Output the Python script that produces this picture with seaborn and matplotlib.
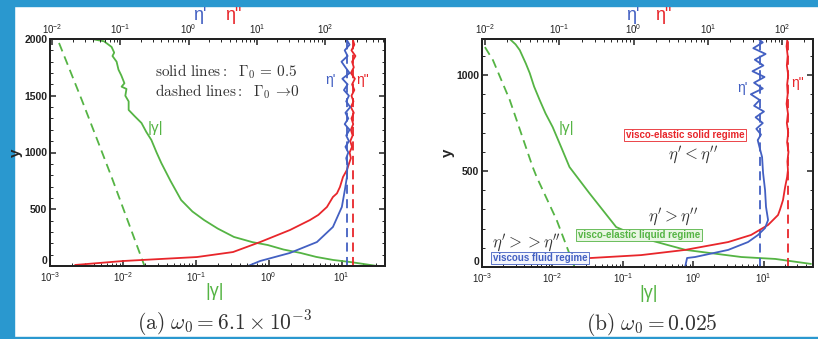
import numpy as np
import pandas as pd
import matplotlib
matplotlib.use("Agg")
import matplotlib.pyplot as plt
from matplotlib.patches import Rectangle
from matplotlib.ticker import MultipleLocator, LogLocator, NullFormatter
import seaborn as sns

sns.set_style("ticks")
plt.rcParams['font.family'] = ['Liberation Sans', 'DejaVu Sans']
plt.rcParams['mathtext.fontset'] = 'dejavusans'

GREEN = "#55b444"
RED = "#e8262b"
BLUE = "#4360c2"
DARK = "#333333"
SLIDE = "#2a98cf"

# ---------------- panel (a) data ----------------
a_gam_solid_x = [3.74e-3, 5.5e-3, 7.0e-3, 7.6e-3, 7.2e-3, 8.2e-3, 8.7e-3, 9.5e-3, 1.05e-2, 9.6e-3,
                 1.12e-2, 1.08e-2, 1.2e-2, 1.2e-2, 1.45e-2, 1.8e-2, 2.1e-2, 2.46e-2, 2.9e-2, 3.37e-2,
                 4.5e-2, 6.3e-2, 0.09, 0.13, 0.2, 0.334, 0.6, 0.97, 1.6, 2.74, 4.5, 7.7, 13.2, 20.0, 30.9]
a_gam_solid_y = [2000, 1980, 1930, 1880, 1850, 1800, 1730, 1680, 1610, 1580,
                 1560, 1500, 1450, 1375, 1320, 1260, 1180, 1110, 1000, 907,
                 750, 581, 480, 405, 330, 256, 210, 185, 145, 115, 80, 53, 35, 18, 0]
a_gam_dash_x = [1.33e-3, 2.73e-3, 4.38e-3, 7.0e-3, 0.0198]
a_gam_dash_y = [1965, 1463, 1123, 784, 0]

a_red_x = [0.0217, 0.110, 1.33, 4.49, 11.2, 30.7, 60.3, 80, 107, 131, 150, 166, 184, 210,
           225, 240, 230, 250, 235, 255, 240, 260, 245, 265, 240, 262, 245, 270, 250, 275,
           240, 265, 250, 280, 245, 270, 255]
a_red_y = [9, 44, 79, 123, 211, 317, 405, 450, 520, 608, 640, 696, 784, 846,
           900, 950, 1000, 1050, 1100, 1150, 1200, 1250, 1300, 1350, 1400, 1450, 1500, 1550, 1600, 1650,
           1700, 1750, 1800, 1850, 1900, 1950, 2000]
a_blue_x = [7.45, 11.2, 30.7, 76.3, 131, 177, 196, 210, 212,
            215, 205, 220, 200, 225, 205, 230, 195, 220, 200, 235, 205, 225, 190, 215, 180,
            230, 200, 175, 215, 195, 230, 205]
a_blue_y = [0, 44, 115, 211, 344, 520, 670, 784, 850,
            900, 950, 1000, 1050, 1100, 1150, 1200, 1250, 1300, 1350, 1400, 1450, 1500, 1550, 1600, 1650,
            1700, 1750, 1800, 1850, 1900, 1950, 2000]
a_blue_dash = 210
a_red_dash = 257

# ---------------- panel (b) data ----------------
b_gam_solid_x = [2.48e-3, 3.0e-3, 3.44e-3, 4.2e-3, 4.77e-3, 5.5e-3, 6.6e-3, 8.0e-3, 0.0101, 0.0135,
                 0.0175, 0.0335, 0.0807, 0.188, 0.785, 4.85, 14.7, 47.3]
b_gam_solid_y = [1188, 1160, 1130, 1060, 1010, 940, 870, 800, 729, 620,
                 521, 385, 208, 151, 89, 52, 42, 16]
b_gam_dash_x = [1.1e-3, 1.43e-3, 2.48e-3, 5.25e-3, 5.98e-3, 0.0115, 0.0206]
b_gam_dash_y = [1146, 1078, 870, 521, 469, 245, 0]

b_red_x = [0.03, 0.268, 1.26, 4.94, 18.8, 38.3, 64.8, 88.3, 94, 103, 110, 117, 120,
           118, 122, 117, 121, 116, 120, 115, 119, 117, 121, 116, 119, 115, 118]
b_red_y = [30, 47, 62, 89, 130, 167, 219, 271, 300, 349, 417, 469, 505,
           550, 600, 650, 700, 750, 800, 850, 900, 950, 1000, 1050, 1100, 1150, 1188]
b_blue_x = [4.94, 5.26, 6.73, 18.8, 34.8, 47.5, 59, 64.8, 60.8, 59, 55.5, 53.8, 50, 47,
            52, 45, 55, 44, 57, 42, 50, 38, 55, 42, 58, 40, 56, 43, 60, 41, 55, 48]
b_blue_y = [0, 47, 52, 89, 130, 167, 203, 245, 313, 401, 490, 573, 620, 661,
            690, 720, 750, 780, 810, 840, 870, 900, 930, 960, 990, 1020, 1050, 1080, 1110, 1140, 1170, 1188]
b_blue_dash = 49.8
b_red_dash = 120

W, H = 818, 339
fig = plt.figure(figsize=(W / 100, H / 100), dpi=100)
fig.patch.set_facecolor("white")

def fx(px):
    return px / W

def fy(py):
    return 1 - py / H

# slide background strips
for r in [(0, 0, 14 / W, 1), (0, fy(6), 1, 6 / H), (0, 0, 1, 2 / H)]:
    fig.patches.append(Rectangle(r[:2], r[2], r[3], transform=fig.transFigure,
                                 color=SLIDE, zorder=-5))

def line(ax, xs, ys, color, dashed=False, lw=1.3):
    df = pd.DataFrame({"x": xs, "y": ys})
    kw = dict(linestyle=(0, (5, 3))) if dashed else {}
    sns.lineplot(data=df, x="x", y="y", sort=False, estimator=None, ax=ax,
                 color=color, lw=lw, **kw)

def setup(ax, ax2, xlim, xlim2, ylim, yticks, xticks, xticks2):
    for a in (ax, ax2):
        a.set_xscale("log")
        a.set_xlabel("")
        a.set_ylabel("")
        for s in a.spines.values():
            s.set_linewidth(1.4)
            s.set_color("#222222")
    ax.set_xlim(*xlim)
    ax2.set_xlim(*xlim2)
    ax.set_ylim(*ylim)
    ax.set_yticks(yticks)
    ax.yaxis.set_minor_locator(MultipleLocator(100))
    ax.set_xticks(xticks)
    ax2.set_xticks(xticks2)
    for a in (ax, ax2):
        a.xaxis.set_minor_locator(LogLocator(base=10, subs=np.arange(2, 10), numticks=20))
        a.xaxis.set_minor_formatter(NullFormatter())
    ax.tick_params(axis="both", which="major", direction="in", length=4, width=1.1,
                   right=True, top=False, labelsize=7, pad=2, colors="#222222")
    ax.tick_params(axis="x", which="major", pad=3)
    ax.tick_params(axis="both", which="minor", direction="in", length=2, width=0.7,
                   right=True, top=False)
    ax2.tick_params(axis="x", which="major", direction="in", length=4, width=1.1,
                    labelsize=7, pad=2, colors="#222222")
    ax2.tick_params(axis="x", which="minor", direction="in", length=2, width=0.7)
    labels = [str(v) for v in yticks]
    ax.set_yticklabels(labels, fontweight="bold", fontsize=7.5)
    for lab in ax.get_yticklabels():
        if lab.get_text() == "0":
            lab.set_va("bottom")
    ax.set_ylabel("y", fontsize=11, fontweight="bold", labelpad=1)

# ---------------- panel (a) ----------------
axA = fig.add_axes([fx(50), fy(266), fx(385) - fx(50), fy(39) - fy(266)])
axA2 = axA.twiny()
line(axA, a_gam_dash_x, a_gam_dash_y, GREEN, dashed=True)
line(axA, a_gam_solid_x, a_gam_solid_y, GREEN)
line(axA2, [a_blue_dash, a_blue_dash], [0, 2000], BLUE, dashed=True)
line(axA2, [a_red_dash, a_red_dash], [0, 2000], RED, dashed=True)
line(axA2, a_red_x, a_red_y, RED)
line(axA2, a_blue_x, a_blue_y, BLUE)
setup(axA, axA2, (1.07e-3, 39.5), (9.3e-3, 760), (0, 2000), [0, 500, 1000, 1500, 2000],
      [1e-3, 1e-2, 1e-1, 1, 10], [1e-2, 1e-1, 1, 10, 100])

# ---------------- panel (b) ----------------
axB = fig.add_axes([fx(482), fy(267), fx(813) - fx(482), fy(39) - fy(267)])
axB2 = axB.twiny()
line(axB, b_gam_dash_x, b_gam_dash_y, GREEN, dashed=True)
line(axB, b_gam_solid_x, b_gam_solid_y, GREEN)
line(axB2, [b_blue_dash, b_blue_dash], [0, 1188], BLUE, dashed=True)
line(axB2, [b_red_dash, b_red_dash], [0, 1188], RED, dashed=True)
line(axB2, b_red_x, b_red_y, RED)
line(axB2, b_blue_x, b_blue_y, BLUE)
setup(axB, axB2, (1.07e-3, 50.5), (9.1e-3, 261), (0, 1188), [0, 500, 1000],
      [1e-3, 1e-2, 1e-1, 1, 10], [1e-2, 1e-1, 1, 10, 100])

# ---------------- annotations ----------------
def t(px, py, s, **kw):
    fig.text(fx(px), fy(py), s, ha="center", va="center", **kw)

serif = dict(math_fontfamily="cm", color=DARK)

# panel (a)
t(200, 15, "η'", color=BLUE, fontsize=13)
t(233, 15, 'η"', color=RED, fontsize=13)
t(330, 80, "η'", color=BLUE, fontsize=10)
t(363, 80, 'η"', color=RED, fontsize=10)
t(155, 128, "|γ|", color=GREEN, fontsize=11)
t(215, 292, "|γ|", color=GREEN, fontsize=13)
fig.text(fx(155), fy(72), r"$\mathrm{solid\ lines:}\ \ \Gamma_0\,=\,0.5$", ha="left",
         va="center", fontsize=11, **serif)
fig.text(fx(155), fy(92), r"$\mathrm{dashed\ lines:}\ \ \Gamma_0\,\rightarrow\!0$", ha="left",
         va="center", fontsize=11, **serif)
t(225, 323, r"$\mathrm{(a)}\ \omega_0 = 6.1\times10^{-3}$", fontsize=15.5, **serif)

# panel (b)
t(633, 15, "η'", color=BLUE, fontsize=13)
t(663, 15, 'η"', color=RED, fontsize=13)
t(742, 88, "η'", color=BLUE, fontsize=10)
t(798, 83, 'η"', color=RED, fontsize=10)
t(566, 128, "|γ|", color=GREEN, fontsize=11)
t(649, 293, "|γ|", color=GREEN, fontsize=13)
t(685, 135, "visco-elastic solid regime", color=RED, fontsize=7, fontweight="bold",
  bbox=dict(boxstyle="square,pad=0.15", fc="white", ec=RED, lw=0.6))
t(693, 155, r"$\eta' < \eta''$", fontsize=12, **serif)
t(673, 217, r"$\eta' > \eta''$", fontsize=12, **serif)
t(639, 235, "visco-elastic liquid regime", color=GREEN, fontsize=7, fontweight="bold",
  bbox=dict(boxstyle="square,pad=0.15", fc="#e9f6e3", ec=GREEN, lw=0.6))
t(527, 243, r"$\eta' >> \eta''$", fontsize=12, **serif)
t(540, 258, "viscous fluid regime", color=BLUE, fontsize=7, fontweight="bold",
  bbox=dict(boxstyle="square,pad=0.15", fc="#f4f6fd", ec=BLUE, lw=0.6), zorder=10)
t(652, 325, r"$\mathrm{(b)}\ \omega_0 = 0.025$", fontsize=15.5, **serif)

fig.savefig("out.png", dpi=100, facecolor=fig.get_facecolor())
